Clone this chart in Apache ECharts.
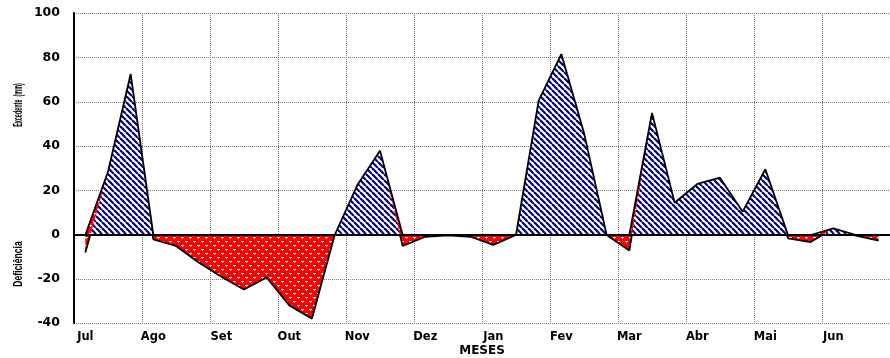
<!DOCTYPE html>
<html>
<head>
<meta charset="utf-8">
<script src="https://cdn.jsdelivr.net/npm/echarts@6/dist/echarts.min.js"></script>
<style>
  html, body { margin: 0; padding: 0; background: #fff; }
  #chart { width: 890px; height: 358px; }
</style>
</head>
<body>
<div id="chart"></div>
<script>
// Balanço hídrico decendial: excedente (+) e deficiência (-) em mm
const meses = ['Jul', 'Ago', 'Set', 'Out', 'Nov', 'Dez', 'Jan', 'Fev', 'Mar', 'Abr', 'Mai', 'Jun'];
const decendios = meses.flatMap(m => [m + ' 1', m + ' 2', m + ' 3']);

const excedente = [
  0, 28.5, 72.5,    0, 0, 0,          0, 0, 0,           0, 0, 0,
  22.5, 38, 0,      0, 0, 0,          0, 0, 60.5,        81.5, 46, 0,
  0, 55, 14.5,      23, 25.8, 10.5,   29.6, 0, 0,        3, 0, 0
];
const deficiencia = [
  -8, 0, 0,         -2, -5, -12.5,    -19, -24.8, -19.3,  -32, -38, 0,
  0, 0, -5,         -0.8, -0.2, -0.8, -4.5, 0, 0,         0, 0, 0,
  -7, 0, 0,         0, 0, 0,          0, -1.5, -3.2,      0, -0.3, -2.5
];
const saldo = excedente.map((e, i) => e + deficiencia[i]);

// fill patterns
function stripePattern() {
  const n = 6;
  const c = document.createElement('canvas');
  c.width = n; c.height = n;
  const g = c.getContext('2d');
  g.fillStyle = '#ffffff';
  g.fillRect(0, 0, n, n);
  g.strokeStyle = '#000080';
  g.lineWidth = 2.2;
  for (const o of [-n, 0, n]) {
    g.beginPath();
    g.moveTo(o, 0);
    g.lineTo(o + n, n);
    g.stroke();
  }
  return c;
}
function dotPattern() {
  const c = document.createElement('canvas');
  c.width = 8; c.height = 8;
  const g = c.getContext('2d');
  g.fillStyle = '#ff0000';
  g.fillRect(0, 0, 8, 8);
  g.fillStyle = '#ffffff';
  g.fillRect(1, 1, 3, 1);
  g.fillRect(5, 5, 3, 1);
  g.fillStyle = 'rgba(255,220,220,0.9)';
  g.fillRect(2, 2, 1, 1);
  g.fillRect(6, 6, 1, 1);
  return c;
}
const blueFill = { image: stripePattern(), repeat: 'repeat' };
const redFill = { image: dotPattern(), repeat: 'repeat' };

const gridLine = { color: '#7a7a7a', width: 1, type: [1, 1] };
const labelFont = { fontFamily: 'DejaVu Sans', fontWeight: 'bold', color: '#000' };

function xAxisFor(idx) {
  return {
    type: 'category',
    gridIndex: idx,
    data: decendios,
    boundaryGap: true,
    axisLine: { show: false, onZero: false },
    axisTick: { show: false },
    axisLabel: {
      show: idx === 1,
      interval: i => i % 3 === 0,
      formatter: v => v.split(' ')[0],
      margin: 8,
      fontSize: 11.5,
      ...labelFont
    },
    splitLine: { show: true, interval: i => i % 3 === 0, lineStyle: gridLine },
    name: idx === 1 ? 'MESES' : '',
    nameLocation: 'middle',
    nameGap: 22,
    nameTextStyle: { fontSize: 12, ...labelFont }
  };
}
function yAxisFor(idx, min, max) {
  return {
    type: 'value',
    gridIndex: idx,
    min: min, max: max, interval: 20,
    axisLine: { show: true, lineStyle: { color: '#000', width: 2 } },
    axisTick: { show: false },
    axisLabel: { margin: 14, fontSize: 12.5, showMaxLabel: idx === 0, ...labelFont },
    splitLine: { show: true, lineStyle: gridLine }
  };
}

const chart = echarts.init(document.getElementById('chart'), null, { renderer: 'canvas' });
chart.setOption({
  animation: false,
  backgroundColor: '#fff',
  grid: [
    { left: 74, width: 822, top: 13, height: 222 },
    { left: 74, width: 822, top: 235, height: 89 }
  ],
  xAxis: [xAxisFor(0), xAxisFor(1)],
  yAxis: [yAxisFor(0, 0, 100), yAxisFor(1, -40, 0)],
  graphic: [
    {
      type: 'text', x: 18, y: 105, rotation: Math.PI / 2, scaleX: 0.42,
      style: { text: 'Excedente  (mm)', fontFamily: 'Liberation Sans', fontWeight: 'bold',
               fontSize: 13, fill: '#000', align: 'center', verticalAlign: 'middle' }
    },
    {
      type: 'text', x: 18, y: 264, rotation: Math.PI / 2, scaleX: 0.66,
      style: { text: 'Deficiência', fontFamily: 'Liberation Sans', fontWeight: 'bold',
               fontSize: 13, fill: '#000', align: 'center', verticalAlign: 'middle' }
    }
  ],
  series: [
    {
      name: 'Excedente', type: 'line', xAxisIndex: 0, yAxisIndex: 0,
      data: excedente, symbol: 'none', z: 2,
      lineStyle: { width: 0, opacity: 0 },
      areaStyle: { color: redFill, opacity: 1 }
    },
    {
      name: 'Saldo', type: 'line', xAxisIndex: 0, yAxisIndex: 0,
      data: saldo, symbol: 'none', z: 3,
      lineStyle: { width: 0, opacity: 0 },
      areaStyle: { color: blueFill, opacity: 1 }
    },
    {
      name: 'Contorno', type: 'line', xAxisIndex: 0, yAxisIndex: 0,
      data: excedente, symbol: 'none', z: 4,
      lineStyle: { color: '#000', width: 1.8 },
      markLine: {
        silent: true, symbol: 'none', label: { show: false },
        lineStyle: { color: '#000', width: 2, type: 'solid' },
        data: [{ yAxis: 0 }]
      }
    },
    {
      name: 'Deficiência', type: 'line', xAxisIndex: 1, yAxisIndex: 1,
      data: saldo, symbol: 'none', z: 3,
      lineStyle: { color: '#000', width: 1.8 },
      areaStyle: { color: redFill, opacity: 1 }
    }
  ]
});
</script>
</body>
</html>
